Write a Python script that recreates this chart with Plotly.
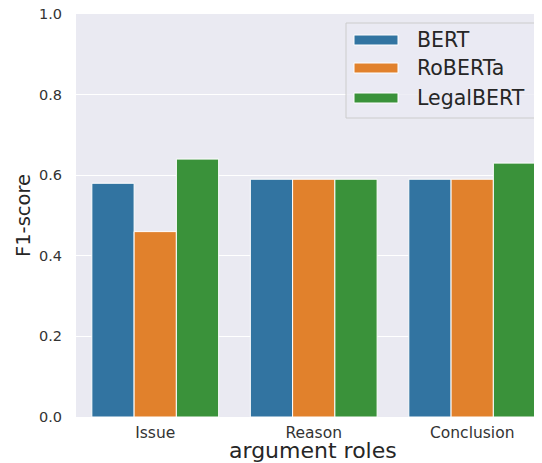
import plotly.graph_objects as go

categories = ["Issue", "Reason", "Conclusion"]
models = ["BERT", "RoBERTa", "LegalBERT"]
bert = [0.58, 0.59, 0.59]
roberta = [0.46, 0.59, 0.59]
legalbert = [0.64, 0.59, 0.63]
colors = ["#3274A1", "#E1812C", "#3A923A"]
yticks = [0.0, 0.2, 0.4, 0.6, 0.8, 1.0]

# page body has an 8px margin; compensate so the picture lines up with the window
OFF = 8
W, H = 542 - OFF, 463 - OFF
X0, X1, Y0, Y1 = 76, 541, 14, 417          # plot area in window pixels
L, T = X0 - OFF, Y0 - OFF
R, B = W - (X1 - OFF), H - (Y1 - OFF)
pw, ph = X1 - X0, Y1 - Y0

def px(x):
    return (x - X0) / pw

def py(y):
    return (Y1 - y) / ph

fig = go.Figure()
for name, vals, col in zip(models, [bert, roberta, legalbert], colors):
    fig.add_trace(go.Bar(
        x=categories, y=vals, name=name, showlegend=False,
        marker=dict(color=col, line=dict(color="white", width=1)),
    ))

# custom legend (matplotlib-like)
shapes = [dict(type="rect", xref="paper", yref="paper",
               x0=px(346), x1=px(539), y0=py(118), y1=py(23),
               line=dict(color="#CCCCCC", width=1),
               fillcolor="rgba(234,234,242,0.8)", layer="above")]
annotations = []
ycent = [40, 68, 98]
for name, col, yc in zip(models, colors, ycent):
    shapes.append(dict(type="rect", xref="paper", yref="paper",
                       x0=px(354), x1=px(398), y0=py(yc + 5), y1=py(yc - 5),
                       line=dict(color="white", width=1), fillcolor=col, layer="above"))
    annotations.append(dict(xref="paper", yref="paper", x=px(415), y=py(yc),
                            text=name, showarrow=False, xanchor="left", yanchor="middle",
                            font=dict(size=20.5, color="#262626")))

# x-axis title centred on the full (clipped) matplotlib axis
annotations.append(dict(xref="paper", yref="paper", x=px(313), y=py(451),
                        text="argument roles", showarrow=False,
                        xanchor="center", yanchor="middle",
                        font=dict(size=22, color="#262626")))

# top tick label (at the very edge of the figure) drawn as a y-referenced label
top = yticks[-1]
annotations.append(dict(xref="paper", yref="y", x=px(64), y=top,
                        text=f"{top:.1f}", showarrow=False, xanchor="right", yanchor="middle",
                        font=dict(size=14.5, color="#333333")))

fig.update_layout(
    width=W, height=H,
    margin=dict(l=L, r=R, t=T, b=B, pad=0),
    paper_bgcolor="white", plot_bgcolor="#EAEAF2",
    barmode="group", bargap=0.2, bargroupgap=0,
    font=dict(family="DejaVu Sans", color="#262626"),
    shapes=shapes, annotations=annotations,
    showlegend=False,
)
fig.update_xaxes(range=[-0.5, 2.434], showgrid=False, zeroline=False,
                 tickfont=dict(size=15.5, color="#333333"), ticks="outside", ticklen=1,
                 tickcolor="rgba(0,0,0,0)")
fig.update_yaxes(range=[0, 1.0], tickvals=yticks[:-1], ticktext=[f"{v:.1f}" for v in yticks[:-1]],
                 showgrid=True, gridcolor="white", gridwidth=1.3, zeroline=False,
                 tickfont=dict(size=14.5, color="#333333"), ticks="outside", ticklen=10,
                 tickcolor="rgba(0,0,0,0)",
                 title=dict(text="F1-score", font=dict(size=19.5), standoff=3))

fig.write_html("out.html")
